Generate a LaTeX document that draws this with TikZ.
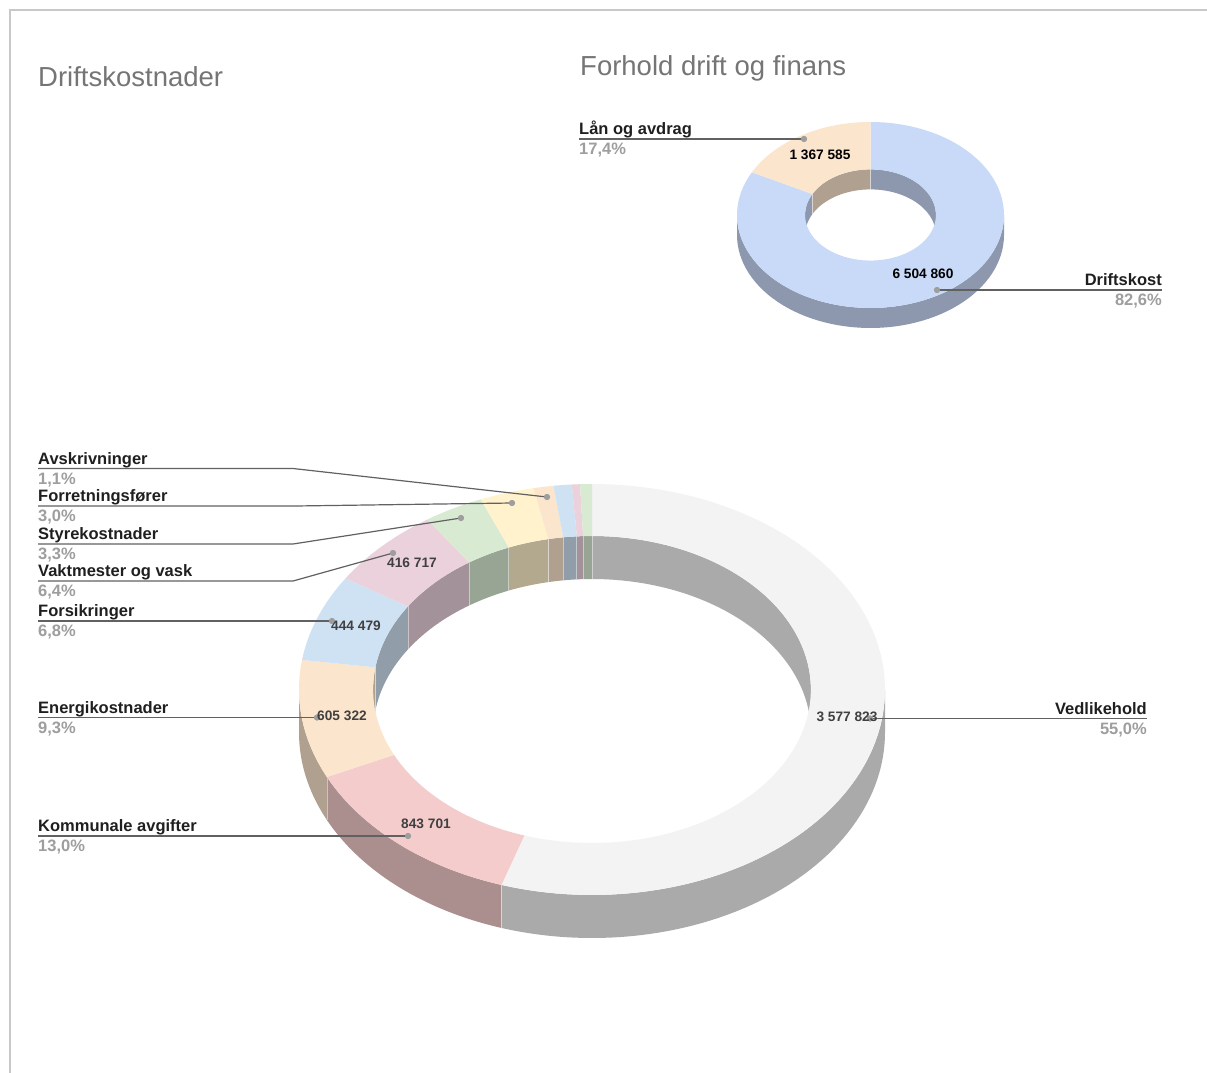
\documentclass[tikz,border=0pt]{standalone}
\usepackage{fontspec}
\setmainfont{Liberation Sans}
\begin{document}
\begin{tikzpicture}[x=1pt,y=-1pt,
  leader/.style={draw=black!62,line width=1.2pt},
  dotnode/.style={circle,fill=black!38,inner sep=0pt,minimum size=6pt},
  lbl/.style={font=\fontsize{16.5}{19}\selectfont\bfseries,text=black!88,inner sep=0pt},
  pct/.style={font=\fontsize{16.5}{19}\selectfont\bfseries,text=black!38,inner sep=0pt},
  val/.style={font=\fontsize{13.7}{16}\selectfont\bfseries,text=black!75,inner sep=0pt},
  valb/.style={font=\fontsize{13.7}{16}\selectfont\bfseries,text=black,inner sep=0pt},
  ttl/.style={font=\fontsize{27.5}{32}\selectfont,text=black!54,inner sep=0pt},
  sep/.style={draw=white,draw opacity=0.45,line width=0.8pt}]
\definecolor{cV}{HTML}{F3F3F3}
\definecolor{cK}{HTML}{F4CCCC}
\definecolor{cE}{HTML}{FCE5CD}
\definecolor{cF}{HTML}{CFE2F3}
\definecolor{cVa}{HTML}{EAD1DC}
\definecolor{cS}{HTML}{D9EAD3}
\definecolor{cFo}{HTML}{FFF2CC}
\definecolor{cA}{HTML}{FCE5CD}
\definecolor{cBl}{HTML}{CFE2F3}
\definecolor{cPk}{HTML}{EAD1DC}
\definecolor{cGr}{HTML}{D9EAD3}
\definecolor{cD}{HTML}{C9DAF8}
\definecolor{cL}{HTML}{FCE5CD}
\definecolor{frame}{HTML}{C8C8C8}
\newcommand{\topface}[8]{\fill[#8] plot[domain=#6:#7,samples=90] ({#1+#3*sin(\x)},{#2-#4*cos(\x)}) -- plot[domain=#7:#6,samples=90] ({#1+#5*#3*sin(\x)},{#2-#5*#4*cos(\x)}) -- cycle;}
\newcommand{\wallface}[8]{\fill[#8] plot[domain=#6:#7,samples=60] ({#1+#3*sin(\x)},{#2-#4*cos(\x)}) -- plot[domain=#7:#6,samples=60] ({#1+#3*sin(\x)},{#2+#5-#4*cos(\x)}) -- cycle;}
\newcommand{\wallsep}[6]{\draw[sep] ({#1+#3*sin(#6)},{#2-#4*cos(#6)}) -- ({#1+#3*sin(#6)},{#2+#5-#4*cos(#6)});}
\useasboundingbox (0,0) rectangle (1207,1073);
\fill[white] (0,0) rectangle (1207,1073);
% frame
\draw[frame,line width=1.5pt] (10,1073) -- (10,10) -- (1207,10);
% titles
\node[ttl,anchor=base west] (t1) at (38,86) {Driftskostnader};
\node[ttl,anchor=base west] (t2) at (580,76) {Forhold drift og finans};
% ================= big donut =================
% outer walls (front half)
\wallface{592}{689.5}{293}{205.5}{43}{90}{198}{cV!70!black}
\wallface{592}{689.5}{293}{205.5}{43}{198}{244.8}{cK!70!black}
\wallface{592}{689.5}{293}{205.5}{43}{244.8}{270}{cE!70!black}
\wallsep{592}{689.5}{293}{205.5}{43}{198}
\wallsep{592}{689.5}{293}{205.5}{43}{244.8}
% inner walls (back half)
\wallface{592}{689.5}{218.9}{153.5}{43}{270}{278.28}{cE!70!black}
\wallface{592}{689.5}{218.9}{153.5}{43}{278.28}{302.76}{cF!70!black}
\wallface{592}{689.5}{218.9}{153.5}{43}{302.76}{325.8}{cVa!70!black}
\wallface{592}{689.5}{218.9}{153.5}{43}{325.8}{337.68}{cS!70!black}
\wallface{592}{689.5}{218.9}{153.5}{43}{337.68}{348.48}{cFo!70!black}
\wallface{592}{689.5}{218.9}{153.5}{43}{348.48}{352.44}{cA!70!black}
\wallface{592}{689.5}{218.9}{153.5}{43}{352.44}{356.04}{cBl!70!black}
\wallface{592}{689.5}{218.9}{153.5}{43}{356.04}{357.66}{cPk!70!black}
\wallface{592}{689.5}{218.9}{153.5}{43}{357.66}{360}{cGr!70!black}
\wallface{592}{689.5}{218.9}{153.5}{43}{360}{450}{cV!70!black}
\foreach \a in {278.28,302.76,325.8,337.68,348.48,352.44,356.04,357.66,360}{\wallsep{592}{689.5}{218.9}{153.5}{43}{\a}}
% top faces
\topface{592}{689.5}{293}{205.5}{0.747}{0}{198}{cV}
\topface{592}{689.5}{293}{205.5}{0.747}{198}{244.8}{cK}
\topface{592}{689.5}{293}{205.5}{0.747}{244.8}{278.28}{cE}
\topface{592}{689.5}{293}{205.5}{0.747}{278.28}{302.76}{cF}
\topface{592}{689.5}{293}{205.5}{0.747}{302.76}{325.8}{cVa}
\topface{592}{689.5}{293}{205.5}{0.747}{325.8}{337.68}{cS}
\topface{592}{689.5}{293}{205.5}{0.747}{337.68}{348.48}{cFo}
\topface{592}{689.5}{293}{205.5}{0.747}{348.48}{352.44}{cA}
\topface{592}{689.5}{293}{205.5}{0.747}{352.44}{356.04}{cBl}
\topface{592}{689.5}{293}{205.5}{0.747}{356.04}{357.66}{cPk}
\topface{592}{689.5}{293}{205.5}{0.747}{357.66}{360}{cGr}
% ================= small donut =================
\wallface{870.5}{215}{133.5}{93}{20}{90}{270}{cD!70!black}
\wallface{870.5}{215}{65.4}{45.6}{20}{270}{297.36}{cD!70!black}
\wallface{870.5}{215}{65.4}{45.6}{20}{297.36}{360}{cL!70!black}
\wallface{870.5}{215}{65.4}{45.6}{20}{360}{450}{cD!70!black}
\wallsep{870.5}{215}{65.4}{45.6}{20}{297.36}
\wallsep{870.5}{215}{65.4}{45.6}{20}{360}
\topface{870.5}{215}{133.5}{93}{0.49}{0}{297.36}{cD}
\topface{870.5}{215}{133.5}{93}{0.49}{297.36}{360}{cL}
% ================= leaders: big donut =================
\node[dotnode] (dA) at (547,497) {};
\node[dotnode] (dFo) at (512,503) {};
\node[dotnode] (dS) at (461,518) {};
\node[dotnode] (dVa) at (393,553) {};
\node[dotnode] (dF) at (332,621) {};
\node[dotnode] (dE) at (317,717.5) {};
\node[dotnode] (dK) at (408,836) {};
\node[dotnode] (dV) at (870,718.5) {};
\coordinate (sA) at (38,468.5);  \coordinate (eA) at (293,468.5);
\coordinate (sFo) at (38,506);   \coordinate (eFo) at (295,506);
\coordinate (sS) at (38,544);    \coordinate (eS) at (293,544);
\coordinate (sVa) at (38,581);   \coordinate (eVa) at (293,581);
\coordinate (sF) at (38,621);
\coordinate (sE) at (38,717.5);
\coordinate (sK) at (38,836);
\coordinate (sV) at (1147,718.5);
\draw[leader] (sA) -- (eA) -- (dA.center);
\draw[leader] (sFo) -- (eFo) -- (dFo.center);
\draw[leader] (sS) -- (eS) -- (dS.center);
\draw[leader] (sVa) -- (eVa) -- (dVa.center);
\draw[leader] (sF) -- (dF.center);
\draw[leader] (sE) -- (dE.center);
\draw[leader] (sK) -- (dK.center);
\draw[leader] (sV) -- (dV.center);
\foreach \n in {dA,dFo,dS,dVa,dF,dE,dK,dV}{\fill[black!38] (\n) circle (3pt);}
% labels
\node[lbl,anchor=base west] (lA) at (38,464) {Avskrivninger};
\node[pct,anchor=base west] (pA) at (38,484) {1,1\%};
\node[lbl,anchor=base west] (lFo) at (38,501) {Forretningsfører};
\node[pct,anchor=base west] (pFo) at (38,521) {3,0\%};
\node[lbl,anchor=base west] (lS) at (38,539) {Styrekostnader};
\node[pct,anchor=base west] (pS) at (38,559) {3,3\%};
\node[lbl,anchor=base west] (lVa) at (38,576) {Vaktmester og vask};
\node[pct,anchor=base west] (pVa) at (38,596) {6,4\%};
\node[lbl,anchor=base west] (lF) at (38,616) {Forsikringer};
\node[pct,anchor=base west] (pF) at (38,636) {6,8\%};
\node[lbl,anchor=base west] (lE) at (38,713) {Energikostnader};
\node[pct,anchor=base west] (pE) at (38,733) {9,3\%};
\node[lbl,anchor=base west] (lK) at (38,831) {Kommunale avgifter};
\node[pct,anchor=base west] (pK) at (38,851) {13,0\%};
\node[lbl,anchor=base east] (lV) at (1147,714) {Vedlikehold};
\node[pct,anchor=base east] (pV) at (1147,734) {55,0\%};
% values
\node[val] (vVa) at (412,563) {416 717};
\node[val] (vF) at (356,626) {444 479};
\node[val] (vE) at (342,716) {605 322};
\node[val] (vK) at (426,824) {843 701};
\node[val] (vV) at (847,717) {3 577 823};
% ================= leaders: small donut =================
\node[dotnode] (dL) at (804,139) {};
\node[dotnode] (dD) at (937,290) {};
\coordinate (sL) at (579,139);
\coordinate (sD) at (1162,290);
\draw[leader] (sL) -- (dL.center);
\draw[leader] (sD) -- (dD.center);
\foreach \n in {dL,dD}{\fill[black!38] (\n) circle (3pt);}
\node[lbl,anchor=base west] (lL) at (579,134) {Lån og avdrag};
\node[pct,anchor=base west] (pL) at (579,154) {17,4\%};
\node[lbl,anchor=base east] (lD) at (1162,285) {Driftskost};
\node[pct,anchor=base east] (pD) at (1162,305) {82,6\%};
\node[valb] (vL) at (820,155) {1 367 585};
\node[valb] (vD) at (923,274) {6 504 860};
\end{tikzpicture}
\end{document}
